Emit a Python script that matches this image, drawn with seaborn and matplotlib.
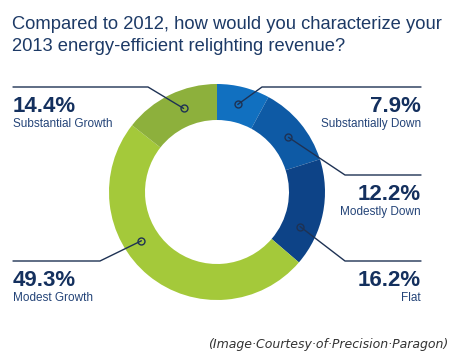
import numpy as np
import matplotlib
matplotlib.use("Agg")
import matplotlib.pyplot as plt
import seaborn as sns
from matplotlib import font_manager

# data
categories = ["Substantially Down", "Modestly Down", "Flat", "Modest Growth", "Substantial Growth"]
values = [7.9, 12.2, 16.2, 49.3, 14.4]
pct_labels = ["7.9%", "12.2%", "16.2%", "49.3%", "14.4%"]
colors = ["#1170c0", "#0e5aa5", "#0d4387", "#a4c93a", "#8db03c"]

title_lines = ["Compared to 2012, how would you characterize your",
               "2013 energy-efficient relighting revenue?"]
caption = "(Image·Courtesy·of·Precision·Paragon)"

# label layout (pixels from top-left): side, anchor position inside wedge, elbow, line y
layout = {
    "Substantially Down": dict(side="right", frac=0.47, elbow=(262, 87)),
    "Modestly Down": dict(side="right", frac=0.55, elbow=(345, 175)),
    "Flat": dict(side="right", frac=0.69, elbow=(345, 261)),
    "Modest Growth": dict(side="left", frac=0.60, elbow=(100, 261)),
    "Substantial Growth": dict(side="left", frac=0.58, elbow=(148, 87)),
}

W, H = 456, 363
CX, CY, R_OUT, RING = 217, 192, 108, 36

sns.set_theme(style="white")
fonts = {f.name for f in font_manager.fontManager.ttflist}
narrow = "Liberation Sans Narrow" if "Liberation Sans Narrow" in fonts else "Liberation Sans"
plt.rcParams["font.family"] = [narrow, "DejaVu Sans"]

fig = plt.figure(figsize=(W / 100, H / 100), dpi=100)
ax = fig.add_axes([0, 0, 1, 1])

ax.pie(values, colors=colors, startangle=90, counterclock=False,
       radius=R_OUT, center=(CX, H - CY),
       wedgeprops=dict(width=RING, linewidth=0))
ax.set_xlim(0, W)
ax.set_ylim(0, H)
ax.set_aspect("equal")
ax.axis("off")

navy = "#14305e"
line_col = "#1e3254"
cum = np.concatenate([[0], np.cumsum(values)]) / sum(values)
r_mid = R_OUT - RING / 2
for i, cat in enumerate(categories):
    lay = layout[cat]
    frac_pos = cum[i] + lay["frac"] * (cum[i + 1] - cum[i])
    ang = np.deg2rad(90 - 360 * frac_pos)
    ax_x = CX + r_mid * np.cos(ang)
    ax_y = (H - CY) + r_mid * np.sin(ang)
    ex, ey = lay["elbow"]
    ey = H - ey
    end_x = 421 if lay["side"] == "right" else 13
    ax.plot([ax_x, ex, end_x], [ax_y, ey, ey], color=line_col, lw=1.0, zorder=3)
    ax.plot([ax_x], [ax_y], marker="o", ms=5, mfc="none", mec=line_col, mew=1.0, zorder=4)
    ha = "right" if lay["side"] == "right" else "left"
    ax.text(end_x, ey - 25, pct_labels[i], ha=ha, va="baseline",
            fontsize=16, fontweight="bold", color=navy)
    ax.text(end_x, ey - 40, cat, ha=ha, va="baseline", fontsize=8.5, color="#244478")

ax.text(12, H - 29, title_lines[0], ha="left", va="baseline", fontsize=13.2, color="#1d3a66")
ax.text(12, H - 51, title_lines[1], ha="left", va="baseline", fontsize=13.2, color="#1d3a66")

ax.text(448, H - 348, caption, ha="right", va="baseline", fontsize=9,
        fontstyle="italic", color="#333333", family="DejaVu Sans")

fig.savefig("out.png", dpi=100)
